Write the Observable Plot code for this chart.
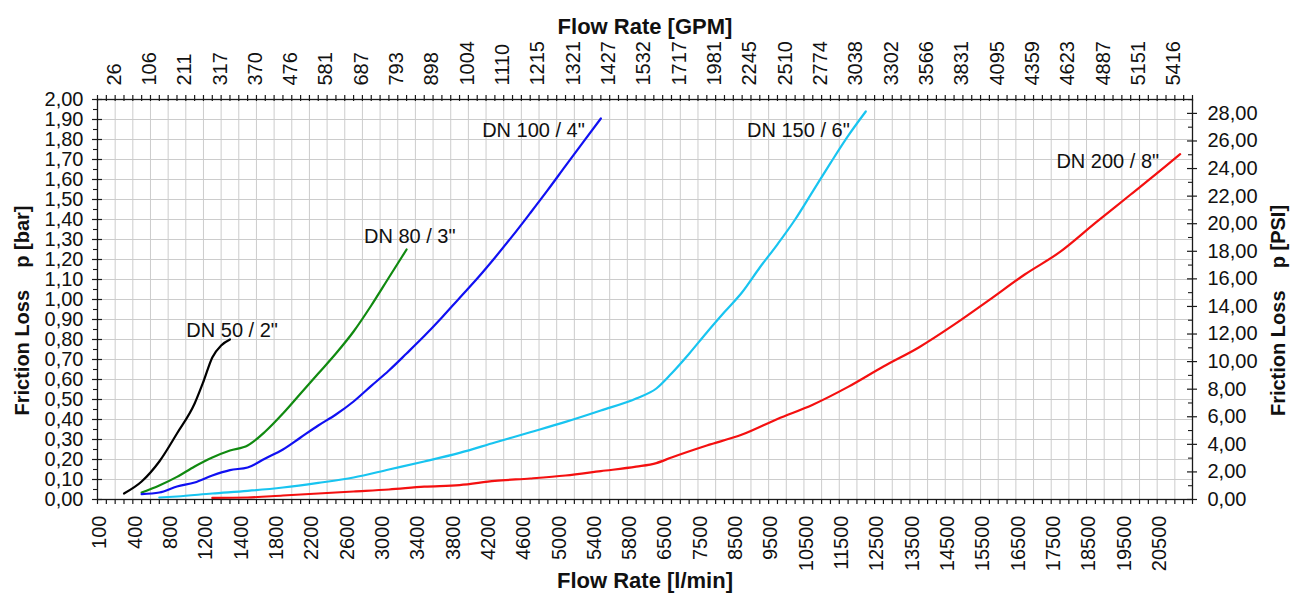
<!DOCTYPE html>
<html>
<head>
<meta charset="utf-8">
<script src="https://cdn.jsdelivr.net/npm/d3@7"></script>
<script src="https://cdn.jsdelivr.net/npm/@observablehq/plot@0.6"></script>
<style>
  html, body { margin: 0; padding: 0; background: #fff; }
  #chart svg { display: block; }
</style>
</head>
<body>
<div id="chart"></div>
<script>
// ---------- tick labels ----------
const flowLabels = [100, 400, 800, 1200, 1400, 1800, 2200, 2600, 3000, 3400, 3800, 4200, 4600, 5000, 5400, 5800,
  6500, 7500, 8500, 9500, 10500, 11500, 12500, 13500, 14500, 15500, 16500, 17500, 18500, 19500, 20500];
const gpmLabels = [26, 106, 211, 317, 370, 476, 581, 687, 793, 898, 1004, 1110, 1215, 1321, 1427, 1532,
  1717, 1981, 2245, 2510, 2774, 3038, 3302, 3566, 3831, 4095, 4359, 4623, 4887, 5151, 5416];
const barTicks = [0, 0.1, 0.2, 0.3, 0.4, 0.5, 0.6, 0.7, 0.8, 0.9, 1.0, 1.1, 1.2, 1.3, 1.4, 1.5, 1.6, 1.7, 1.8, 1.9, 2.0];
const psiTicks = [0, 2, 4, 6, 8, 10, 12, 14, 16, 18, 20, 22, 24, 26, 28];
const PSI_PER_BAR = 14.5038;

// ---------- series (flow l/min, friction loss bar) ----------
const dn50Flow = [250, 400, 600, 800, 1000, 1100, 1200, 1250, 1300];
const dn50Bar  = [0.03, 0.09, 0.19, 0.33, 0.48, 0.59, 0.71, 0.77, 0.80];

const dn80Flow = [400, 600, 800, 1000, 1200, 1300, 1400, 1600, 1800, 2000, 2200, 2400, 2600, 2800, 3000, 3200];
const dn80Bar  = [0.035, 0.07, 0.113, 0.165, 0.21, 0.245, 0.27, 0.34, 0.43, 0.53, 0.63, 0.73, 0.84, 0.97, 1.11, 1.25];

const dn100Flow = [400, 600, 800, 1000, 1200, 1300, 1400, 1600, 1800, 2000, 2200, 2400, 2600, 2800, 3000, 3200,
  3400, 3600, 3800, 4000, 4200, 4400, 4600, 4800, 5000, 5200, 5400];
const dn100Bar  = [0.027, 0.035, 0.065, 0.085, 0.12, 0.147, 0.16, 0.205, 0.25, 0.31, 0.37, 0.425, 0.49, 0.568, 0.645, 0.73,
  0.817, 0.91, 1.008, 1.105, 1.209, 1.318, 1.432, 1.548, 1.668, 1.787, 1.905];

const dn150Flow = [600, 800, 1200, 1400, 1800, 2200, 2600, 3000, 3400, 3800, 4200, 4600, 5000, 5400, 5800, 6200,
  6500, 7000, 7500, 8000, 8500, 9000, 9500, 10000, 10500, 11000, 11500, 12000];
const dn150Bar  = [0.01, 0.015, 0.03, 0.043, 0.06, 0.083, 0.11, 0.15, 0.19, 0.233, 0.285, 0.336, 0.388, 0.445, 0.505, 0.555,
  0.63, 0.729, 0.835, 0.937, 1.036, 1.16, 1.276, 1.40, 1.541, 1.682, 1.818, 1.94];

const dn200Flow = [1200, 1400, 1800, 2200, 2600, 3000, 3400, 3800, 4200, 4600, 5000, 5400, 5800, 6200, 6500, 7500,
  8500, 9500, 10500, 11500, 12500, 13500, 14500, 15500, 16500, 17500, 18500, 19500, 20500, 20900];
const dn200Bar  = [0.008, 0.01, 0.02, 0.03, 0.04, 0.05, 0.064, 0.072, 0.093, 0.105, 0.12, 0.142, 0.164, 0.182, 0.21, 0.27,
  0.325, 0.403, 0.474, 0.563, 0.665, 0.76, 0.874, 0.998, 1.125, 1.238, 1.383, 1.525, 1.668, 1.727];

const seriesNames = ['DN 50 / 2"', 'DN 80 / 3"', 'DN 100 / 4"', 'DN 150 / 6"', 'DN 200 / 8"'];
const seriesFlows = [dn50Flow, dn80Flow, dn100Flow, dn150Flow, dn200Flow];
const seriesBars  = [dn50Bar, dn80Bar, dn100Bar, dn150Bar, dn200Bar];

// ---------- styles / layout ----------
const seriesColors = ["#000000", "#108a10", "#1010f2", "#18c4f0", "#f41010"];
const labelStyle = [
  {textAnchor: "end", dx: 48, dy: -9},
  {textAnchor: "end", dx: 49, dy: -13},
  {textAnchor: "end", dx: -16, dy: 12},
  {textAnchor: "end", dx: -16, dy: 19},
  {textAnchor: "end", dx: -21, dy: 7}
];

const W = 1290, H = 598;
const mL = 97, mR = 98, mT = 99, mB = 99;
const plotW = W - mL - mR, plotH = H - mT - mB;
const nIdx = flowLabels.length;              // 31 labelled positions
const subPerLabel = 4;
const nSub = nIdx * subPerLabel;             // 124 minor steps

// labelled flows are equally spaced on the axis: piecewise transform flow -> label index
const idxToFlow = d3.scaleLinear().domain(d3.range(nIdx)).range(flowLabels);
const flowToIdx = d3.scaleLinear().domain(flowLabels).range(d3.range(nIdx));
const xDomain = [-0.25, nIdx - 0.25];
const subTickFlows = d3.range(nSub + 1).map(k => idxToFlow((k - 1) / subPerLabel));
const gridFlows = subTickFlows.filter((d, k) => k % 2 === 0 && k > 0 && k < nSub);
const gpmByFlow = new Map(flowLabels.map((f, i) => [f, gpmLabels[i]]));

const fmt = d3.formatLocale({decimal: ",", thousands: ".", grouping: [3], currency: ["", ""]}).format(".2f");

const rows = seriesNames.flatMap((name, s) =>
  seriesFlows[s].map((f, i) => ({series: name, flow: f, bar: seriesBars[s][i]})));

const axisColor = "#1a1a1a";
const gridColor = "#cccccc";

const marks = [
  // grid
  Plot.ruleX(gridFlows, {x: d => d, stroke: gridColor, strokeWidth: 1}),
  Plot.ruleY(barTicks.filter(d => d > 0 && d < 2), {y: d => d, stroke: gridColor, strokeWidth: 1}),
  // curves
  Plot.line(rows, {x: "flow", y: "bar", z: "series", stroke: "series", strokeWidth: 2.2, curve: "monotone-x"}),
  // frame
  Plot.frame({stroke: axisColor, strokeWidth: 1.3}),
  // x tick marks bottom & top
  Plot.ruleX(subTickFlows, {x: d => d, stroke: axisColor, strokeWidth: 1.2, insetTop: plotH - 5, dy: 5}),
  Plot.ruleX(subTickFlows, {x: d => d, stroke: axisColor, strokeWidth: 1.2, insetBottom: plotH - 6, dy: -4}),
  // left ticks
  Plot.ruleY(barTicks, {y: d => d, stroke: axisColor, strokeWidth: 1.2, insetRight: plotW - 10, dx: -5}),
  Plot.ruleY(barTicks.slice(0, -1).map(d => d + 0.05), {y: d => d, stroke: axisColor, strokeWidth: 1.1, insetRight: plotW - 4, dx: -4}),
  // right ticks
  Plot.ruleY(psiTicks, {y: p => p / PSI_PER_BAR, stroke: axisColor, strokeWidth: 1.2, insetLeft: plotW - 10, dx: 5}),
  Plot.ruleY(psiTicks.map(p => p + 1), {y: p => p / PSI_PER_BAR, stroke: axisColor, strokeWidth: 1.1, insetLeft: plotW - 4}),
  // tick labels
  Plot.text(flowLabels, {x: d => d, text: d => String(d), frameAnchor: "bottom", dy: 16, rotate: -90, textAnchor: "end", fontSize: 20}),
  Plot.text(flowLabels, {x: d => d, text: d => String(gpmByFlow.get(d)), frameAnchor: "top", dy: -14, rotate: -90, textAnchor: "start", fontSize: 20}),
  Plot.text(barTicks, {y: d => d, text: d => fmt(d), frameAnchor: "left", dx: -14, textAnchor: "end", fontSize: 20}),
  Plot.text(psiTicks, {y: p => p / PSI_PER_BAR, text: p => fmt(p), frameAnchor: "right", dx: 15, textAnchor: "start", fontSize: 20}),
  // titles
  Plot.text(["Flow Rate [GPM]"], {frameAnchor: "top", dy: -81, textAnchor: "middle", fontWeight: "bold", fontSize: 22}),
  Plot.text(["Flow Rate [l/min]"], {frameAnchor: "bottom", dy: 88, textAnchor: "middle", fontWeight: "bold", fontSize: 22}),
  Plot.text(["Friction Loss\u00a0\u00a0\u00a0\u00a0p [bar]"], {frameAnchor: "left", dx: -75, dy: 11, rotate: -90, textAnchor: "middle", fontWeight: "bold", fontSize: 20}),
  Plot.text(["Friction Loss\u00a0\u00a0\u00a0\u00a0p [PSI]"], {frameAnchor: "right", dx: 86, dy: 11, rotate: -90, textAnchor: "middle", fontWeight: "bold", fontSize: 20}),
  // curve labels
  ...seriesNames.map((name, s) =>
    Plot.text(rows.filter(r => r.series === name),
      Plot.selectLast({x: "flow", y: "bar", text: () => name, fontSize: 20, fill: "#111", ...labelStyle[s]})))
];

const chart = Plot.plot({
  width: W,
  height: H,
  marginLeft: mL, marginRight: mR, marginTop: mT, marginBottom: mB,
  style: {fontFamily: "'Liberation Sans', Arial, sans-serif", fontSize: "20px", background: "#fff", color: "#111"},
  x: {transform: d => flowToIdx(d), domain: xDomain, axis: null},
  y: {domain: [0, 2], axis: null},
  color: {domain: seriesNames, range: seriesColors},
  marks
});
document.getElementById("chart").appendChild(chart);
</script>
</body>
</html>
